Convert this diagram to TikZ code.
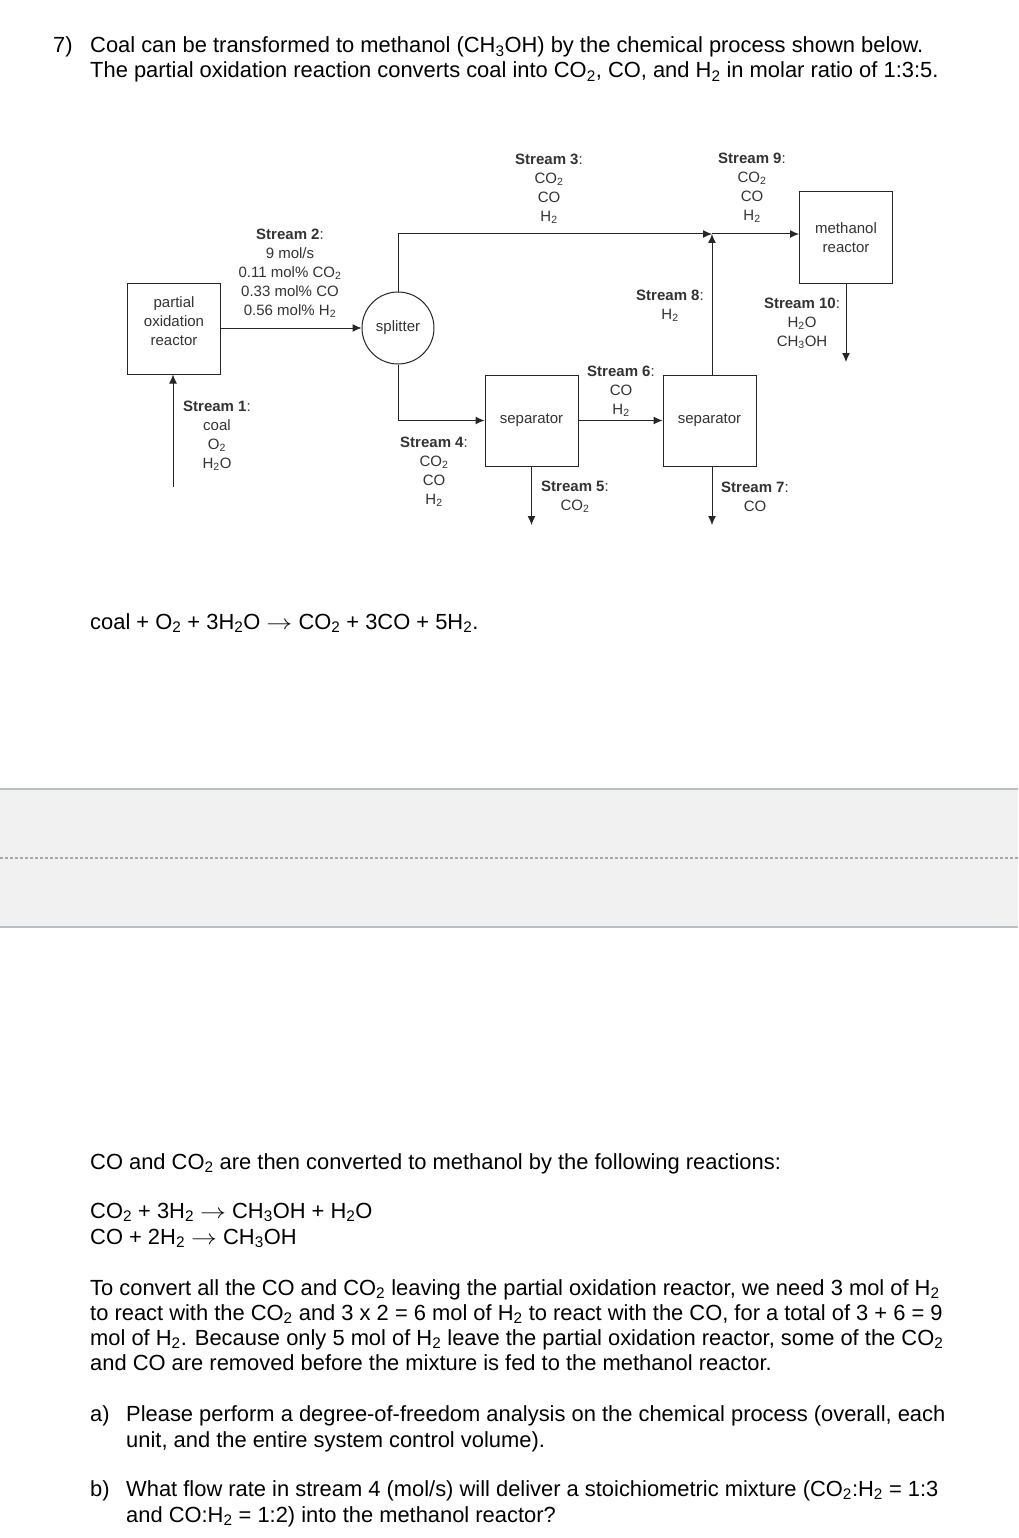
\documentclass[tikz,border=0pt]{standalone}
\usepackage{fontspec}
\setmainfont{Liberation Sans}
\usetikzlibrary{arrows.meta}
\newcommand\sbs[1]{\textsubscript{#1}}
\newcommand\rarr{\scalebox{1.25}[1]{$\rightarrow$}}
\begin{document}
\begin{tikzpicture}[x=1pt,y=-1pt,
  unit/.style={draw=black!85, line width=1pt, minimum width=93pt, minimum height=91pt, inner sep=0pt},
  lbl/.style={font=\fontsize{15}{19}\selectfont, text=black!80, align=center, inner sep=0pt},
  flow/.style={draw=black!85, line width=1pt, -{Latex[length=9pt,width=8pt]}},
  para/.style={font=\fontsize{21.9}{25}\selectfont, anchor=base west, inner sep=0pt}]
\fill[white] (0,0) rectangle (1018,1538);
\useasboundingbox (0,0) rectangle (1018,1538);

% header text
\node[para] (n7) at (53,53) {7)};
\node[para] (h1) at (90,53) {Coal can be transformed to methanol (CH\sbs{3}OH) by the chemical process shown below.};
\node[para] (h2) at (90,78) {The partial oxidation reaction converts coal into CO\sbs{2}, CO, and H\sbs{2} in molar ratio of 1:3:5.};

% units
\node[unit] (por) at (174,328.5) {};
\node[lbl] (port) at (174,321) {partial\\oxidation\\reactor};
\node[draw=black!85, line width=1pt, circle, minimum size=72pt, inner sep=0pt, lbl] (spl) at (398,328) {splitter};
\node[unit, lbl] (sep1) at (531.5,420.5) {separator};
\node[unit, lbl] (sep2) at (709.5,420.5) {separator};
\node[unit] (mr) at (846,237.5) {};
\node[lbl] (mrt) at (846,237.5) {methanol\\reactor};

% coordinates
\coordinate (s1a) at (173,487);
\coordinate (junc) at (712,234);
\coordinate (s5b) at (531.5,525);
\coordinate (s7b) at (712,525);
\coordinate (s10b) at (846,362);

% flows
\draw[flow] (s1a) -- (s1a |- por.south);
\draw[flow] (por.east |- spl.west) -- (spl.west);
\draw[flow] (spl.north) |- (junc);
\draw[flow] (spl.south) |- (sep1.west);
\draw[flow] (sep1.south) -- (s5b);
\draw[flow] (sep1.east) -- (sep2.west);
\draw[flow] (sep2.south -| s7b) -- (s7b);
\draw[flow] (sep2.north -| junc) -- (junc);
\draw[flow] (junc) -- (mr.west |- junc);
\draw[flow] (mr.south) -- (s10b);

% stream labels
\node[lbl] (l1) at (217,436) {\textbf{Stream 1}:\\coal\\O\sbs{2}\\H\sbs{2}O};
\node[lbl] (l2) at (290,273) {\textbf{Stream 2}:\\9 mol/s\\0.11 mol\% CO\sbs{2}\\0.33 mol\% CO\\0.56 mol\% H\sbs{2}};
\node[lbl] (l3) at (549,189) {\textbf{Stream 3}:\\CO\sbs{2}\\CO\\H\sbs{2}};
\node[lbl] (l4) at (434,472) {\textbf{Stream 4}:\\CO\sbs{2}\\CO\\H\sbs{2}};
\node[lbl] (l5) at (575,497) {\textbf{Stream 5}:\\CO\sbs{2}};
\node[lbl] (l6) at (621,391) {\textbf{Stream 6}:\\CO\\H\sbs{2}};
\node[lbl] (l7) at (755,497) {\textbf{Stream 7}:\\CO};
\node[lbl] (l8) at (670,305.5) {\textbf{Stream 8}:\\H\sbs{2}};
\node[lbl] (l9) at (752,188) {\textbf{Stream 9}:\\CO\sbs{2}\\CO\\H\sbs{2}};
\node[lbl] (l10) at (802,323) {\textbf{Stream 10}:\\H\sbs{2}O\\CH\sbs{3}OH};

% overall reaction
\node[para] (r0) at (90,629) {coal + O\sbs{2} + 3H\sbs{2}O \rarr{} CO\sbs{2} + 3CO + 5H\sbs{2}.};

% grey band
\fill[black!5.5] (0,789) rectangle (1018,927);
\draw[draw={rgb,255:red,188;green,191;blue,194}, line width=2pt] (0,789) -- (1018,789);
\draw[draw={rgb,255:red,188;green,191;blue,194}, line width=2pt] (0,927) -- (1018,927);
\draw[draw={rgb,255:red,168;green,168;blue,168}, line width=2pt, dash pattern=on 3pt off 2pt] (0,858) -- (1018,858);

% lower text
\node[para] (t1) at (90,1169) {CO and CO\sbs{2} are then converted to methanol by the following reactions:};
\node[para] (t2) at (90,1218) {CO\sbs{2} + 3H\sbs{2} \rarr{} CH\sbs{3}OH + H\sbs{2}O};
\node[para] (t3) at (90,1244) {CO + 2H\sbs{2} \rarr{} CH\sbs{3}OH};
\node[para] (p1) at (90,1295) {To convert all the CO and CO\sbs{2} leaving the partial oxidation reactor, we need 3 mol of H\sbs{2}};
\node[para] (p2) at (90,1320) {to react with the CO\sbs{2} and 3 x 2 = 6 mol of H\sbs{2} to react with the CO, for a total of 3 + 6 = 9};
\node[para] (p3) at (90,1345) {mol of H\sbs{2}. Because only 5 mol of H\sbs{2} leave the partial oxidation reactor, some of the CO\sbs{2}};
\node[para] (p4) at (90,1370) {and CO are removed before the mixture is fed to the methanol reactor.};
\node[para] (qa) at (90,1421) {a)};
\node[para] (qa1) at (126,1421) {Please perform a degree-of-freedom analysis on the chemical process (overall, each};
\node[para] (qa2) at (126,1447) {unit, and the entire system control volume).};
\node[para] (qb) at (90,1496) {b)};
\node[para] (qb1) at (126,1496) {What flow rate in stream 4 (mol/s) will deliver a stoichiometric mixture (CO\sbs{2}:H\sbs{2} = 1:3};
\node[para] (qb2) at (126,1522) {and CO:H\sbs{2} = 1:2) into the methanol reactor?};
\end{tikzpicture}
\end{document}
